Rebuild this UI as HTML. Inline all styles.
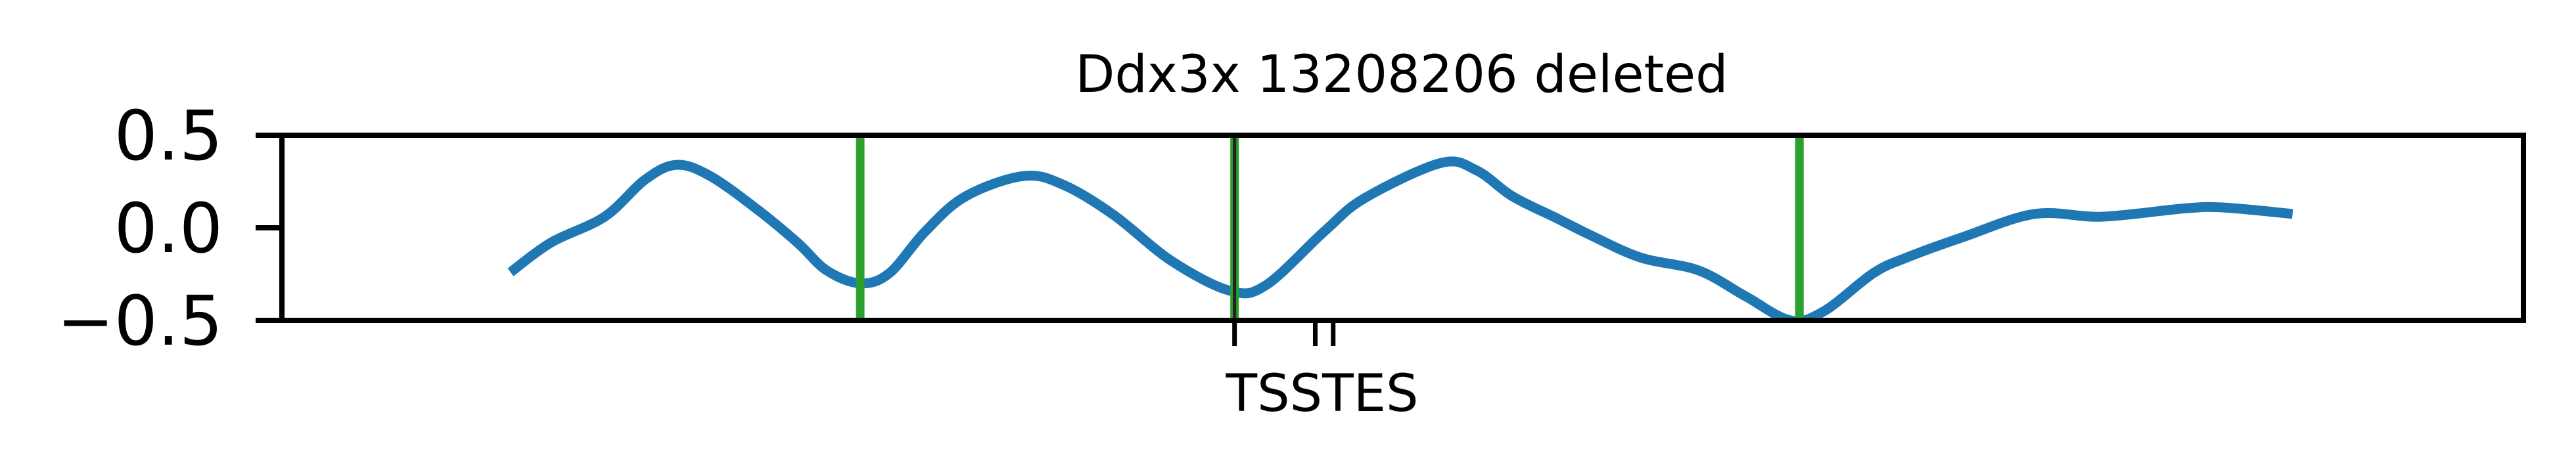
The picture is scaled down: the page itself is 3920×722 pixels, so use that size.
<!DOCTYPE html>
<html><head><meta charset="utf-8"><style>
html,body{margin:0;padding:0;background:#fff;}
svg{display:block;}
text{font-family:"DejaVu Sans","Liberation Sans",sans-serif;fill:#000;}
</style></head><body>
<svg id="chart" width="3920" height="722" viewBox="0 0 3920 722" xmlns="http://www.w3.org/2000/svg">
<text x="2133" y="140" font-size="78" text-anchor="middle">Ddx3x 13208206 deleted</text>
<g id="plot"></g>
</svg>
<script>
const xs = [10.2,12.0,14.4,16.2,17.6,19.1,21.2,23.0,24.3,25.8,27.1,28.7,30.5,33.1,34.9,37.1,39.7,42.3,43.9,46.5,48.3,51.7,53.3,54.9,56.9,58.3,60.6,63.2,65.3,67.3,68.8,71.0,72.5,75.0,78.2,81.2,84.9,86.6,89.7];
const ys = [-0.24,-0.08,0.06,0.26,0.34,0.28,0.10,-0.08,-0.23,-0.30,-0.245,-0.02,0.17,0.28,0.23,0.07,-0.18,-0.34,-0.31,-0.02,0.16,0.35,0.31,0.17,0.05,-0.035,-0.16,-0.23,-0.37,-0.50,-0.45,-0.245,-0.16,-0.05,0.075,0.06,0.105,0.11,0.075];
const greenLines = [25.8,42.5,67.7];
const tssPos = [42.5];
const tesPos = [46.1,46.9];
const yTicks = [0.5,0.0,-0.5];
const yTickLabels = ["0.5","0.0","\u22120.5"];
const xLabel = "TSSTES";

const L=429,R=3840,T=206,B=488;
const sx = v => L + (v-0)/(100-0)*(R-L);
const sy = v => B - (v-(-0.5))/(1.0)*(B-T);
const NS="http://www.w3.org/2000/svg";
const g=document.getElementById('plot');
function mk(tag,attrs){const e=document.createElementNS(NS,tag);for(const k in attrs)e.setAttribute(k,attrs[k]);g.appendChild(e);return e;}

const pts=xs.map((x,i)=>[sx(x),sy(ys[i])]);
let d=`M${pts[0][0]},${pts[0][1]}`;
for(let i=0;i<pts.length-1;i++){
  const p0=pts[Math.max(0,i-1)],p1=pts[i],p2=pts[i+1],p3=pts[Math.min(pts.length-1,i+2)];
  const c1=[p1[0]+(p2[0]-p0[0])/6,p1[1]+(p2[1]-p0[1])/6];
  const c2=[p2[0]-(p3[0]-p1[0])/6,p2[1]-(p3[1]-p1[1])/6];
  d+=` C${c1[0]},${c1[1]} ${c2[0]},${c2[1]} ${p2[0]},${p2[1]}`;
}
const clip=mk('clipPath',{id:'cp'});
const cr=document.createElementNS(NS,'rect');cr.setAttribute('x',L);cr.setAttribute('y',T);cr.setAttribute('width',R-L);cr.setAttribute('height',B-T);clip.appendChild(cr);
const line=mk('path',{d:d,fill:'none',stroke:'#1f77b4','stroke-width':15,'clip-path':'url(#cp)'});



greenLines.forEach(v=>{
  const l=mk('line',{x1:sx(v),x2:sx(v),y1:T,y2:B,stroke:'#2ca02c','stroke-width':13});
  
  
});
tssPos.forEach(v=>{
  const l=mk('line',{x1:sx(v),x2:sx(v),y1:T,y2:B,stroke:'#222','stroke-width':5});
  
  
});

const f=mk('rect',{x:L,y:T,width:R-L,height:B-T,fill:'none',stroke:'#000','stroke-width':8});



yTicks.forEach((v,i)=>{
  const t=mk('line',{x1:L-40,x2:L,y1:sy(v),y2:sy(v),stroke:'#000','stroke-width':8});
  
  
  const tx=mk('text',{x:339,y:sy(v)+37,'font-size':104,'text-anchor':'end'});
  tx.textContent=yTickLabels[i];
  
  
});
tssPos.concat(tesPos).forEach(v=>{
  const t=mk('line',{x1:sx(v),x2:sx(v),y1:B,y2:B+39,stroke:'#000','stroke-width':7});
  
  
});
const xl=mk('text',{x:2012,y:626,'font-size':78,'text-anchor':'middle'});
xl.textContent=xLabel;


</script>
</body></html>
